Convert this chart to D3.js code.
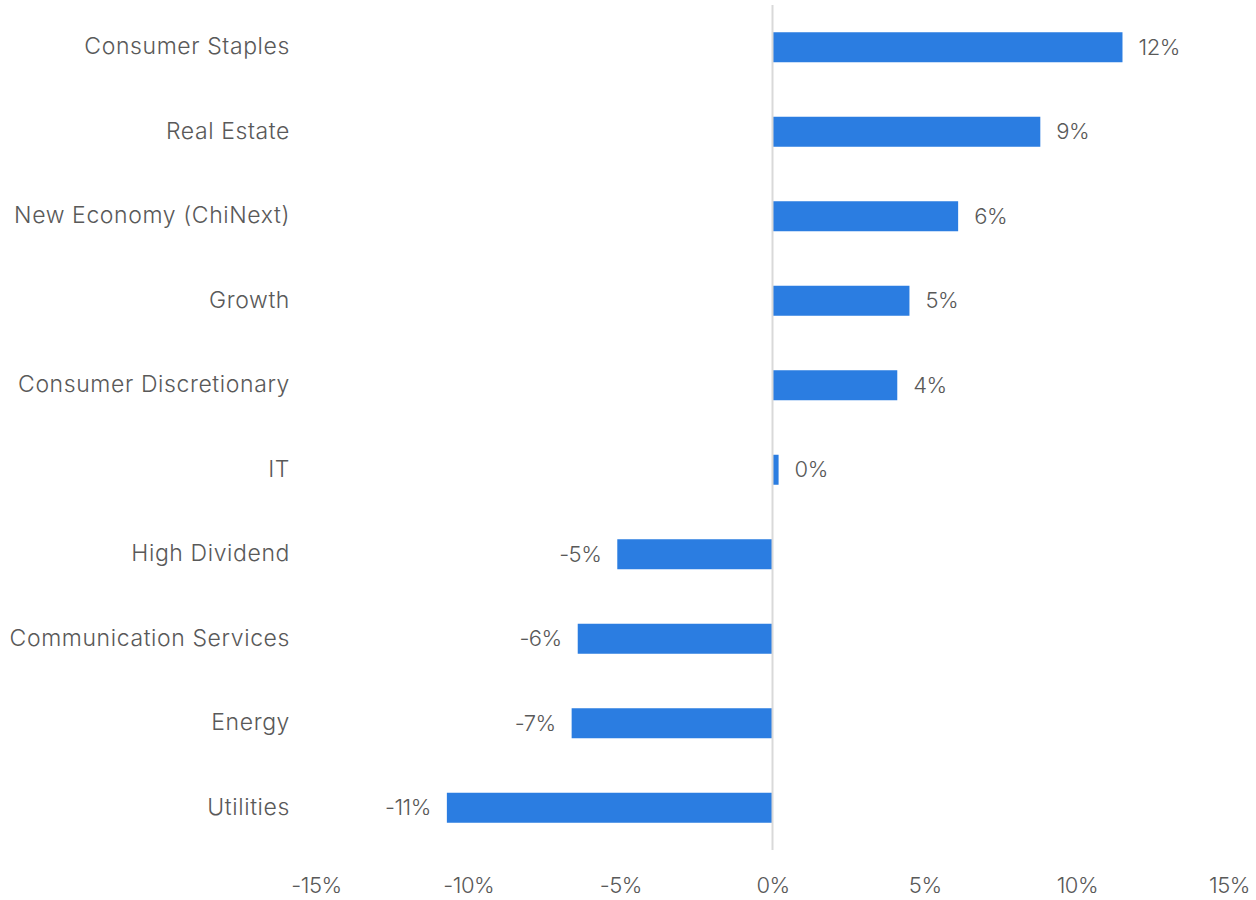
<!DOCTYPE html>
<html lang="en">
<head>
    <meta charset="UTF-8">
    <title>Sector returns</title>
    <script src="https://d3js.org/d3.v7.min.js"></script>
    <style>
        body { margin: 0; background: #fff; }
        text { font-family: Inter, "Noto Sans", sans-serif; fill: #595959; }
    </style>
</head>
<body>
    <div id="chart"></div>
    <script>
        // data
        var categories = ["Consumer Staples", "Real Estate", "New Economy (ChiNext)", "Growth",
            "Consumer Discretionary", "IT", "High Dividend", "Communication Services", "Energy", "Utilities"];
        var values = [11.5, 8.8, 6.1, 4.5, 4.1, 0.2, -5.1, -6.4, -6.6, -10.7];
        var valueLabels = ["12%", "9%", "6%", "5%", "4%", "0%", "-5%", "-6%", "-7%", "-11%"];
        var xTicks = [-15, -10, -5, 0, 5, 10, 15];

        var width = 1256, height = 900;

        var svg = d3.select("#chart")
            .append("svg")
            .attr("width", width)
            .attr("height", height);

        var x = d3.scaleLinear()
            .domain([-15, 15])
            .range([316, 1229]);

        var y = d3.scaleBand()
            .domain(categories)
            .range([5, 850])
            .paddingInner(0.645)
            .paddingOuter(0.3225);

        var data = categories.map(function(c, i) {
            return { name: c, value: values[i], label: valueLabels[i] };
        });

        // bars
        svg.selectAll("rect.bar")
            .data(data)
            .enter()
            .append("rect")
            .attr("class", "bar")
            .attr("x", function(d) { return x(Math.min(0, d.value)); })
            .attr("y", function(d) { return y(d.name); })
            .attr("width", function(d) { return Math.abs(x(d.value) - x(0)); })
            .attr("height", y.bandwidth())
            .attr("fill", "#2B7DE1");

        // zero line
        svg.append("line")
            .attr("x1", x(0)).attr("x2", x(0))
            .attr("y1", 5).attr("y2", 850)
            .attr("stroke", "#d9d9d9")
            .attr("stroke-width", 2);

        // category labels
        svg.selectAll("text.cat")
            .data(data)
            .enter()
            .append("text")
            .attr("class", "cat")
            .attr("x", 290)
            .attr("y", function(d) { return y(d.name) + y.bandwidth() / 2 - 1; })
            .attr("dy", "0.35em")
            .attr("text-anchor", "end")
            .style("font-size", "23px")
            .style("font-weight", 300)
            .style("letter-spacing", "0.6px")
            .text(function(d) { return d.name; });

        // value labels
        svg.selectAll("text.val")
            .data(data)
            .enter()
            .append("text")
            .attr("class", "val")
            .attr("x", function(d) { return d.value >= 0 ? x(d.value) + 16 : x(d.value) - 16; })
            .attr("y", function(d) { return y(d.name) + y.bandwidth() / 2; })
            .attr("dy", "0.35em")
            .attr("text-anchor", function(d) { return d.value >= 0 ? "start" : "end"; })
            .style("font-size", "22px")
            .style("font-weight", 300)
            .style("letter-spacing", "-0.5px")
            .text(function(d) { return d.label; });

        // x axis
        var xAxis = svg.append("g")
            .attr("transform", "translate(0,877)")
            .call(d3.axisBottom(x).tickValues(xTicks).tickSize(0).tickPadding(0)
                .tickFormat(function(d) { return d + "%"; }));
        xAxis.select(".domain").remove();
        xAxis.selectAll("text")
            .style("font-size", "22px")
            .style("font-weight", 300)
            .style("letter-spacing", "-0.5px")
            .attr("fill", "#595959");
    </script>
</body>
</html>
